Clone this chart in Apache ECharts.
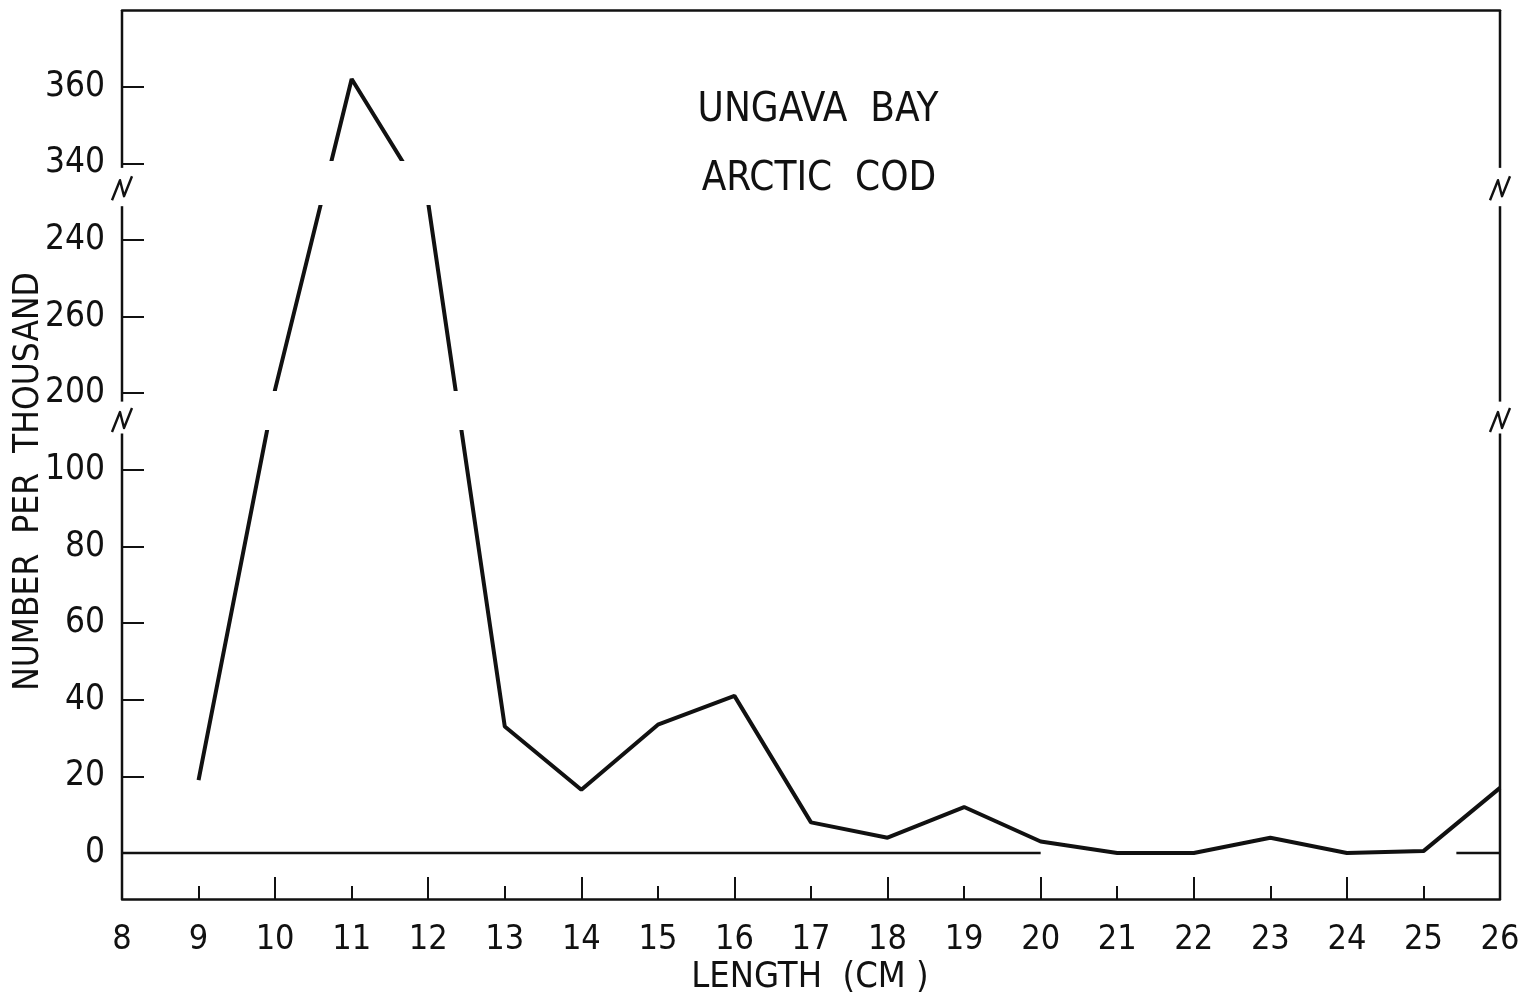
<!DOCTYPE html>
<html>
<head>
<meta charset="utf-8">
<script src="https://cdn.jsdelivr.net/npm/echarts@6/dist/echarts.min.js"></script>
<style>
html,body{margin:0;padding:0;background:#fff;}
#chart{width:1529px;height:1001px;}
</style>
</head>
<body>
<div id="chart"></div>
<script>
// ---------------- data ----------------
const lengthsCm = [9, 10, 11, 12, 13, 14, 15, 16, 17, 18, 19, 20, 21, 22, 23, 24, 25, 26];
const numberPerThousand = [19, 201, 362, 288, 33, 16.5, 33.5, 41, 8, 4, 12, 3, 0, 0, 4, 0, 0.5, 17];

// x axis tick labels and tick sets
const xTickLabels = ['8','9','10','11','12','13','14','15','16','17','18','19','20','21','22','23','24','25','26'];
const xLongTicks = [8, 10, 12, 14, 16, 18, 20, 22, 24, 26];
const xShortTicks = [8, 9, 10, 11, 12, 13, 14, 15, 16, 17, 18, 19, 20, 21, 22, 23, 24, 25, 26];

// y axis tick labels as printed (broken axis), one every drawn step
const yTickLabels = ['0', '20', '40', '60', '80', '100', '200', '260', '240', '340', '360'];

// broken scale: [real from, real to, drawn from, drawn to]
const yScalePieces = [
  [-100, 100, -100, 100],
  [100, 200, 100, 120],
  [200, 240, 120, 160],
  [240, 340, 160, 180],
  [340, 500, 180, 340]
];

// where the axes are interrupted (drawn units) and where the line is interrupted
const axisGaps = [[109.5, 117.8], [168.8, 178.8]];
const lineGaps = [[110.5, 120.5], [169.0, 180.5]];
const breakMarkCenters = [113, 173.5];

// zero reference line pieces (x ranges)
const zeroLinePieces = [[8, 20], [25.43, 26]];

// ---------------- helpers ----------------
function toDrawn(v) {
  for (const [r0, r1, d0, d1] of yScalePieces) {
    if (v >= r0 && v <= r1) return d0 + (v - r0) * (d1 - d0) / (r1 - r0);
  }
  return v;
}

const X_MIN = 8, X_MAX = 26, Y_MIN = -12, Y_MAX = 220, Y_STEP = 20;
const INK = '#111';
const FONT = '"DejaVu Sans Condensed", "DejaVu Sans", sans-serif';

const yTickValues = yTickLabels.map((_, i) => i * Y_STEP);
const seriesData = lengthsCm.map((x, i) => [x, toDrawn(numberPerThousand[i])]);

function renderFrame(params, api) {
  const children = [];
  const seg = (a, b, w) => {
    const p1 = api.coord(a), p2 = api.coord(b);
    children.push({type: 'line', shape: {x1: p1[0], y1: p1[1], x2: p2[0], y2: p2[1]},
      style: {stroke: INK, lineWidth: w}});
  };
  for (const xv of [X_MIN, X_MAX]) {
    const bounds = [Y_MIN].concat(axisGaps.flat(), [Y_MAX]);
    for (let i = 0; i < bounds.length; i += 2) seg([xv, bounds[i]], [xv, bounds[i + 1]], 2.5);
    for (const yc of breakMarkCenters) {
      const c = api.coord([xv, yc]);
      children.push({type: 'polyline',
        shape: {points: [[c[0] - 10, c[1] + 12], [c[0] - 2, c[1] - 8], [c[0] + 2, c[1] + 8], [c[0] + 10, c[1] - 12]]},
        style: {stroke: INK, lineWidth: 2.4, fill: null, lineJoin: 'round'}});
    }
  }
  for (const [a, b] of zeroLinePieces) seg([a, 0], [b, 0], 2.5);
  return {type: 'group', children};
}

// ---------------- chart ----------------
const chart = echarts.init(document.getElementById('chart'), null, {renderer: 'canvas'});
chart.setOption({
  backgroundColor: '#fff',
  animation: false,
  grid: {left: 122, right: 29, top: 10, bottom: 102, containLabel: false},
  xAxis: [
    {
      type: 'value', min: X_MIN, max: X_MAX, interval: 1, position: 'bottom',
      axisLine: {show: true, onZero: false, lineStyle: {color: INK, width: 2.5}},
      axisTick: {show: true, inside: true, length: 22, customValues: xLongTicks, lineStyle: {color: INK, width: 2}},
      axisLabel: {show: true, margin: 24, color: INK, fontFamily: FONT, fontSize: 34,
        formatter: v => xTickLabels[Math.round(v - X_MIN)]},
      splitLine: {show: false}
    },
    {
      type: 'value', min: X_MIN, max: X_MAX, interval: 1, position: 'bottom',
      axisLine: {show: false, onZero: false},
      axisTick: {show: true, inside: true, length: 13, customValues: xShortTicks, lineStyle: {color: INK, width: 2}},
      axisLabel: {show: false},
      splitLine: {show: false}
    },
    {
      type: 'value', min: X_MIN, max: X_MAX, position: 'top',
      axisLine: {show: true, onZero: false, lineStyle: {color: INK, width: 2.5}},
      axisTick: {show: false}, axisLabel: {show: false}, splitLine: {show: false}
    }
  ],
  yAxis: {
    type: 'value', min: Y_MIN, max: Y_MAX,
    axisLine: {show: false, onZero: false},
    axisTick: {show: true, inside: true, length: 22, customValues: yTickValues, lineStyle: {color: INK, width: 2}},
    axisLabel: {show: true, margin: 17, color: INK, fontFamily: FONT, fontSize: 35, customValues: yTickValues,
      formatter: v => yTickLabels[Math.round(v / Y_STEP)]},
    splitLine: {show: false}
  },
  visualMap: {
    type: 'piecewise', show: false, dimension: 1, seriesIndex: 0,
    pieces: [
      {lt: lineGaps[0][0], color: INK},
      {gte: lineGaps[0][1], lt: lineGaps[1][0], color: INK},
      {gte: lineGaps[1][1], color: INK}
    ],
    outOfRange: {color: 'rgba(255,255,255,0)'}
  },
  graphic: [
    {type: 'text', x: 818, y: 111, style: {text: 'UNGAVA  BAY', fill: INK, font: '40px ' + FONT, textAlign: 'center', textVerticalAlign: 'middle'}},
    {type: 'text', x: 819, y: 180, style: {text: 'ARCTIC  COD', fill: INK, font: '40px ' + FONT, textAlign: 'center', textVerticalAlign: 'middle'}},
    {type: 'text', x: 28.5, y: 481.5, rotation: Math.PI / 2, style: {text: 'NUMBER  PER  THOUSAND', fill: INK, font: '35px ' + FONT, textAlign: 'center', textVerticalAlign: 'middle'}},
    {type: 'text', x: 810, y: 978, style: {text: 'LENGTH  (CM )', fill: INK, font: '36px ' + FONT, textAlign: 'center', textVerticalAlign: 'middle'}}
  ],
  series: [
    {
      type: 'line', xAxisIndex: 0, yAxisIndex: 0, data: seriesData,
      showSymbol: false, symbol: 'none', lineStyle: {width: 4}, z: 3
    },
    {
      type: 'custom', xAxisIndex: 0, yAxisIndex: 0, coordinateSystem: 'cartesian2d',
      data: [[X_MIN, 0]], renderItem: renderFrame, clip: false, silent: true, z: 4
    }
  ]
});
</script>
</body>
</html>
